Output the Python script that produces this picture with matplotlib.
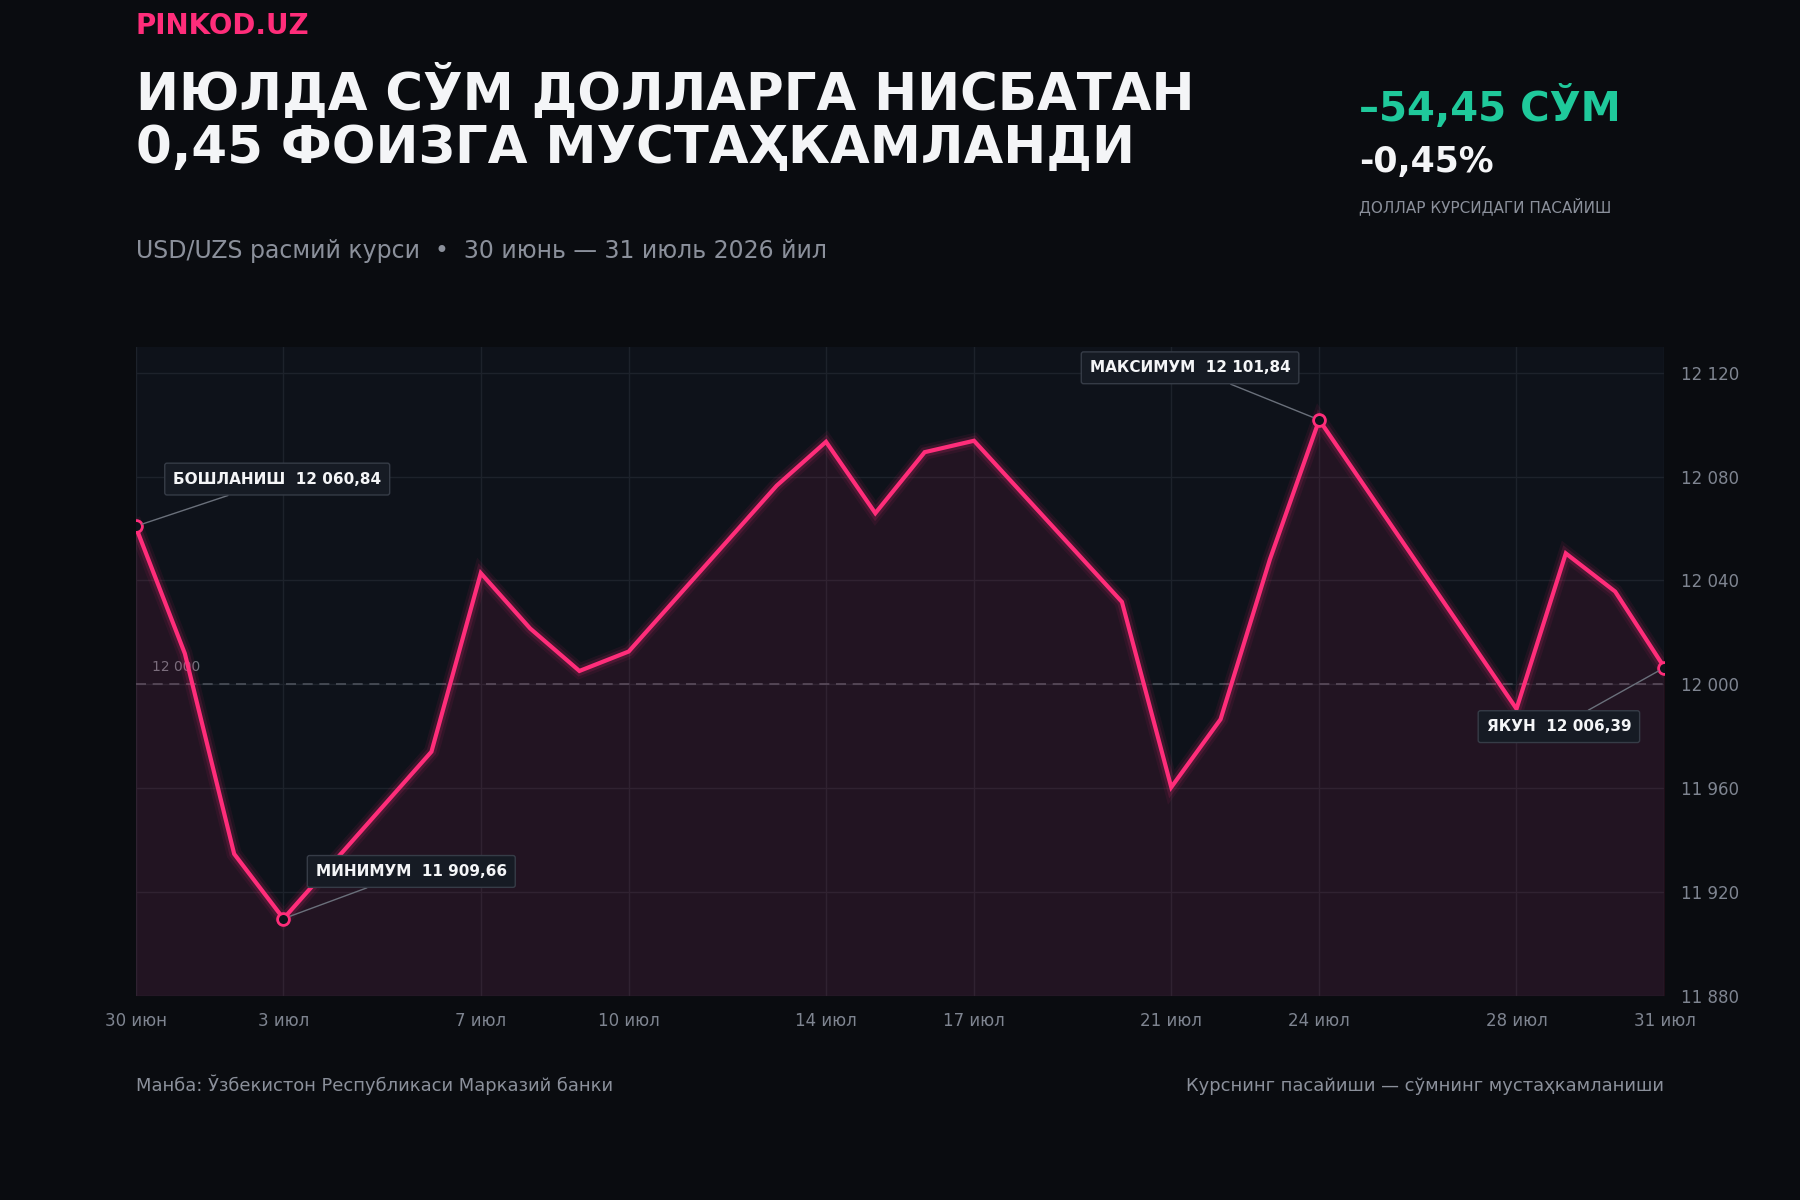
import numpy as np
import pandas as pd
import matplotlib
matplotlib.use("Agg")
import matplotlib.pyplot as plt

plt.rcParams['font.family'] = ['DejaVu Sans']

# data (weekdays only)
dates = ["2026-06-30", "2026-07-01", "2026-07-02", "2026-07-03", "2026-07-06",
         "2026-07-07", "2026-07-08", "2026-07-09", "2026-07-10", "2026-07-13",
         "2026-07-14", "2026-07-15", "2026-07-16", "2026-07-17", "2026-07-20",
         "2026-07-21", "2026-07-22", "2026-07-23", "2026-07-24", "2026-07-27",
         "2026-07-28", "2026-07-29", "2026-07-30", "2026-07-31"]
rates = [12060.84, 12011.8, 11934.6, 11909.66, 11974.0,
         12042.8, 12021.5, 12005.1, 12012.6, 12076.5,
         12093.4, 12065.9, 12089.4, 12093.8, 12031.7,
         11960.3, 11986.5, 12048.1, 12101.84, 12018.4,
         11990.5, 12050.4, 12035.7, 12006.39]

tick_dates = ["2026-06-30", "2026-07-03", "2026-07-07", "2026-07-10", "2026-07-14",
              "2026-07-17", "2026-07-21", "2026-07-24", "2026-07-28", "2026-07-31"]
tick_labels = ["30 июн", "3 июл", "7 июл", "10 июл", "14 июл",
               "17 июл", "21 июл", "24 июл", "28 июл", "31 июл"]
y_ticks = [11880, 11920, 11960, 12000, 12040, 12080, 12120]

# annotated points: index, label, offset in points
marks = [(0, "БОШЛАНИШ", (102, 34)),
         (3, "МИНИМУМ", (92, 34)),
         (18, "МАКСИМУМ", (-93, 37.5)),
         (23, "ЯКУН", (-76, -42.5))]

BG = "#0a0c10"
AX_BG = "#0e121a"
GRID = "#1d222b"
PINK = "#ff2d7a"
GREEN = "#1fc99b"
WHITE = "#f4f5f7"
GREY = "#8b909b"
TICK = "#7f8591"

x = pd.to_datetime(dates)
y = np.array(rates)

fig = plt.figure(figsize=(18, 12), dpi=100, facecolor=BG)
ax = fig.add_axes([0.0753, 0.1703, 0.8494, 0.5407])
ax.set_facecolor(AX_BG)

ax.set_xlim(x[0], x[-1])
ax.set_ylim(11880, 12130)

# grid
ax.set_yticks(y_ticks)
ax.set_xticks(pd.to_datetime(tick_dates))
ax.set_xticklabels(tick_labels)
ax.grid(True, color=GRID, linewidth=1.0)
ax.set_axisbelow(True)
for s in ax.spines.values():
    s.set_visible(False)

ax.yaxis.tick_right()
ax.yaxis.set_major_formatter(plt.FuncFormatter(lambda v, p: f"{v:,.0f}".replace(",", " ")))
ax.tick_params(axis="y", length=0, pad=12, labelsize=12, labelcolor=TICK)
ax.tick_params(axis="x", length=0, pad=12, labelsize=12, labelcolor=TICK)

# reference line at 12 000
ax.axhline(12000, color="#4b505a", linewidth=1.2, linestyle=(0, (6, 4)), zorder=1)
ax.annotate("12 000", xy=(0.011, 12000), xycoords=ax.get_yaxis_transform(),
            xytext=(0, 7), textcoords="offset points", fontsize=10,
            color="#6f747e", va="bottom", zorder=1)

# area + glowing line
ax.fill_between(x, y, 11880, color=PINK, alpha=0.085, linewidth=0, zorder=2)
ax.plot(x, y, color=PINK, linewidth=11, alpha=0.07, solid_joinstyle="miter", zorder=3)
ax.plot(x, y, color=PINK, linewidth=7, alpha=0.14, solid_joinstyle="miter", zorder=3)
ax.plot(x, y, color=PINK, linewidth=3.0, solid_joinstyle="miter", zorder=4)

for i, name, off in marks:
    ax.plot(x[i], y[i], marker="o", markersize=8.5, markerfacecolor=AX_BG,
            markeredgecolor=PINK, markeredgewidth=2.0, zorder=5)
    val = f"{y[i]:,.2f}".replace(",", " ").replace(".", ",")
    ax.annotate(f"{name}  {val}", xy=(x[i], y[i]), xytext=off,
                textcoords="offset points", ha="center", va="center",
                fontsize=11, fontweight="bold", color=WHITE, zorder=6,
                bbox=dict(boxstyle="round,pad=0.55,rounding_size=0.15",
                          facecolor="#161b24", edgecolor="#363c47", linewidth=1.0),
                arrowprops=dict(arrowstyle="-", color="#6a707b", linewidth=1.0,
                                shrinkA=0, shrinkB=5))

# header
fig.text(0.0753, 0.972, "PINKOD.UZ", fontsize=20, fontweight="bold", color=PINK, va="baseline")
fig.text(0.0753, 0.908, "ИЮЛДА СЎМ ДОЛЛАРГА НИСБАТАН", fontsize=37, fontweight="bold",
         color=WHITE, va="baseline")
fig.text(0.0753, 0.864, "0,45 ФОИЗГА МУСТАҲКАМЛАНДИ", fontsize=37, fontweight="bold",
         color=WHITE, va="baseline")
fig.text(0.0753, 0.785, "USD/UZS расмий курси  •  30 июнь — 31 июль 2026 йил",
         fontsize=17, color=GREY, va="baseline")

change = y[-1] - y[0]
pct = change / y[0] * 100
fig.text(0.755, 0.8995, f"–{abs(change):.2f} СЎМ".replace(".", ","), fontsize=29,
         fontweight="bold", color=GREEN, va="baseline")
fig.text(0.755, 0.8565, f"-{abs(pct):.2f}%".replace(".", ","), fontsize=25,
         fontweight="bold", color=WHITE, va="baseline")
fig.text(0.755, 0.823, "ДОЛЛАР КУРСИДАГИ ПАСАЙИШ", fontsize=11, color=GREY, va="baseline")

# footer
fig.text(0.0753, 0.091, "Манба: Ўзбекистон Республикаси Марказий банки",
         fontsize=12.9, color=GREY, va="baseline")
fig.text(0.9247, 0.091, "Курснинг пасайиши — сўмнинг мустаҳкамланиши",
         fontsize=12.9, color=GREY, va="baseline", ha="right")

fig.savefig("out.png", dpi=100, facecolor=BG)
